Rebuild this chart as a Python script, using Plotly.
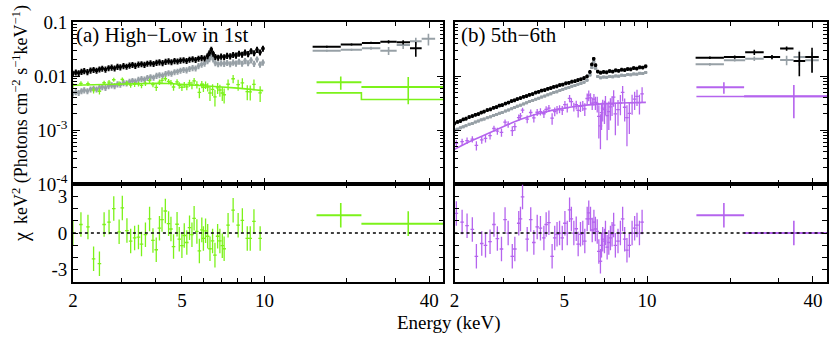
import plotly.graph_objects as go

# ---- data ----
# XIS energy grid (keV) for the dense black / gray spectra
e_xis = [2.00, 2.05, 2.10, 2.15, 2.20, 2.26, 2.32, 2.38, 2.44, 2.50,
         2.56, 2.63, 2.70, 2.77, 2.84, 2.91, 2.98, 3.06, 3.14, 3.22,
         3.30, 3.38, 3.47, 3.56, 3.65, 3.74, 3.84, 3.94, 4.04, 4.14,
         4.25, 4.36, 4.47, 4.58, 4.70, 4.82, 4.94, 5.07, 5.20, 5.33,
         5.47, 5.61, 5.75, 5.90, 6.05, 6.20, 6.30, 6.40, 6.50, 6.62,
         6.78, 6.95, 7.13, 7.31, 7.50, 7.69, 7.88, 8.08, 8.29, 8.50,
         8.72, 8.94, 9.17, 9.40, 9.64, 9.88]

# (a) high state (black) and low state (gray)
a_black = [0.0112, 0.0118, 0.0114, 0.0121, 0.0125, 0.0120, 0.0128, 0.0131, 0.0127, 0.0134,
           0.0138, 0.0133, 0.0141, 0.0145, 0.0140, 0.0150, 0.0147, 0.0155, 0.0151, 0.0158,
           0.0162, 0.0156, 0.0165, 0.0168, 0.0163, 0.0171, 0.0174, 0.0169, 0.0178, 0.0182,
           0.0176, 0.0185, 0.0189, 0.0183, 0.0192, 0.0188, 0.0196, 0.0199, 0.0193, 0.0203,
           0.0207, 0.0201, 0.0212, 0.0218, 0.0214, 0.0236, 0.0268, 0.0312, 0.0262, 0.0228,
           0.0221, 0.0232, 0.0226, 0.0240, 0.0234, 0.0249, 0.0242, 0.0262, 0.0251, 0.0275,
           0.0258, 0.0292, 0.0268, 0.0310, 0.0276, 0.0325]
a_gray = [0.0048, 0.0051, 0.0049, 0.0053, 0.0055, 0.0053, 0.0057, 0.0059, 0.0057, 0.0061,
          0.0063, 0.0061, 0.0066, 0.0068, 0.0066, 0.0071, 0.0070, 0.0075, 0.0074, 0.0079,
          0.0082, 0.0080, 0.0086, 0.0089, 0.0087, 0.0093, 0.0096, 0.0094, 0.0102, 0.0105,
          0.0103, 0.0110, 0.0114, 0.0112, 0.0119, 0.0122, 0.0127, 0.0131, 0.0129, 0.0137,
          0.0142, 0.0140, 0.0155, 0.0165, 0.0172, 0.0190, 0.0208, 0.0245, 0.0205, 0.0176,
          0.0168, 0.0174, 0.0170, 0.0177, 0.0168, 0.0180, 0.0172, 0.0186, 0.0171, 0.0192,
          0.0175, 0.0198, 0.0170, 0.0205, 0.0165, 0.0180]

# (b) 5th (black) and 6th (gray)
b_black = [0.00134, 0.00142, 0.00147, 0.00158, 0.00163, 0.00174, 0.00182, 0.00193, 0.00199, 0.00212,
           0.00220, 0.00235, 0.00244, 0.00260, 0.00268, 0.00285, 0.00292, 0.00312, 0.00325, 0.00345,
           0.00356, 0.00378, 0.00392, 0.00415, 0.00428, 0.00452, 0.00468, 0.00495, 0.00512, 0.00540,
           0.00555, 0.00585, 0.00600, 0.00632, 0.00650, 0.00682, 0.00700, 0.00735, 0.00752, 0.00790,
           0.00808, 0.00850, 0.00872, 0.00920, 0.00990, 0.01200, 0.01650, 0.02100, 0.01600, 0.01220,
           0.01160, 0.01200, 0.01180, 0.01240, 0.01220, 0.01280, 0.01260, 0.01320, 0.01300, 0.01360,
           0.01340, 0.01410, 0.01390, 0.01460, 0.01440, 0.01520]
b_gray = [0.00100, 0.00104, 0.00110, 0.00115, 0.00121, 0.00128, 0.00133, 0.00141, 0.00147, 0.00155,
          0.00160, 0.00170, 0.00176, 0.00187, 0.00194, 0.00205, 0.00212, 0.00226, 0.00236, 0.00250,
          0.00262, 0.00277, 0.00290, 0.00306, 0.00320, 0.00338, 0.00352, 0.00372, 0.00388, 0.00410,
          0.00428, 0.00452, 0.00470, 0.00496, 0.00515, 0.00543, 0.00565, 0.00595, 0.00615, 0.00648,
          0.00670, 0.00705, 0.00730, 0.00772, 0.00840, 0.01050, 0.01450, 0.01850, 0.01400, 0.00990,
          0.00930, 0.00960, 0.00950, 0.00985, 0.00975, 0.01010, 0.01000, 0.01040, 0.01030, 0.01070,
          0.01060, 0.01100, 0.01090, 0.01130, 0.01120, 0.01170]

# HXD bins (keV)
hxd_lo = [15.0, 19.0, 22.7, 26.5, 30.4, 34.0, 37.5]
hxd_hi = [19.0, 22.7, 26.5, 30.4, 34.0, 37.5, 42.0]
hxd_mid = [16.9, 20.8, 24.5, 28.4, 32.1, 35.7, 39.7]
a_black_hxd = [0.0352, 0.0386, 0.0413, 0.0435, 0.0425, 0.0329]
a_black_hxd_err = [0.0015, 0.0018, 0.0020, 0.0030, 0.0040, 0.0100]
a_gray_hxd = [0.0296, 0.0308, 0.0329, 0.0296, 0.0377, 0.0443, 0.0491]
a_gray_hxd_err = [0.0012, 0.0015, 0.0020, 0.0050, 0.0060, 0.0070, 0.0120]
b_black_hxd = [0.0220, 0.0226, 0.0277, 0.0226, 0.0325, 0.0190, 0.0226]
b_black_hxd_err = [0.0012, 0.0015, 0.0030, 0.0020, 0.0030, 0.0090, 0.0110]
b_gray_hxd = [0.0166, 0.0198, 0.0211, 0.0226, 0.0200, 0.0226, 0.0198]
b_gray_hxd_err = [0.0010, 0.0012, 0.0020, 0.0020, 0.0040, 0.0070, 0.0080]

# (a) difference spectrum High-Low (green)
e_grn = [2.00, 2.14, 2.27, 2.38, 2.50, 2.60, 2.71, 2.82, 2.95, 3.03,
         3.15, 3.25, 3.36, 3.47, 3.56, 3.68, 3.81, 3.92, 4.03, 4.14,
         4.23, 4.35, 4.47, 4.56, 4.66, 4.80, 4.89, 5.00, 5.10, 5.21,
         5.33, 5.44, 5.54, 5.67, 5.79, 5.91, 5.99, 6.10, 6.21, 6.33,
         6.47, 6.60, 6.75, 6.88, 7.02, 7.13, 7.37, 7.69, 8.02, 8.31,
         8.66, 8.88, 9.16, 9.65]
f_grn = [0.00680, 0.00734, 0.00725, 0.00549, 0.00525, 0.00754, 0.00774, 0.00858, 0.00727, 0.00868,
         0.00740, 0.00683, 0.00706, 0.00716, 0.00673, 0.00730, 0.00825, 0.00696, 0.00619, 0.00775,
         0.00835, 0.00894, 0.00797, 0.00759, 0.00629, 0.00782, 0.00677, 0.00622, 0.00693, 0.00635,
         0.00746, 0.00681, 0.00814, 0.00698, 0.00501, 0.00707, 0.00617, 0.00687, 0.00629, 0.00487,
         0.00567, 0.00413, 0.00607, 0.00554, 0.00487, 0.00452, 0.00707, 0.00895, 0.00696, 0.00752,
         0.00516, 0.00512, 0.00705, 0.00490]
s_grn = [0.00070, 0.00070, 0.00070, 0.00070, 0.00070, 0.00070, 0.00070, 0.00072, 0.00072, 0.00072,
         0.00074, 0.00074, 0.00074, 0.00074, 0.00075, 0.00075, 0.00075, 0.00075, 0.00090, 0.00090,
         0.00090, 0.00090, 0.00090, 0.00090, 0.00090, 0.00090, 0.00090, 0.00090, 0.00090, 0.00090,
         0.00110, 0.00110, 0.00110, 0.00110, 0.00110, 0.00110, 0.00110, 0.00110, 0.00110, 0.00140,
         0.00140, 0.00140, 0.00140, 0.00140, 0.00140, 0.00140, 0.00160, 0.00160, 0.00160, 0.00160,
         0.00160, 0.00160, 0.00160, 0.00160]
chi_grn = [0.0, 0.7, 0.5, -2.1, -2.5, 0.7, 0.9, 2.0, 0.1, 2.05,
           0.2, -0.65, -0.4, -0.33, -0.9, -0.13, 1.15, -0.6, -1.36, 0.4,
           1.1, 1.8, 0.77, 0.33, -1.1, 0.72, -0.5, -1.03, -0.2, -0.77,
           0.44, -0.13, 1.2, 0.13, -1.46, 0.26, -0.44, 0.18, -0.26, -1.28,
           -0.64, -1.8, -0.26, -0.64, -1.03, -1.28, 0.64, 1.87, 0.64, 1.03,
           -0.44, -0.44, 0.95, -0.44]
e_grn_mod = [2.0, 2.5, 3.0, 3.5, 4.0, 4.5, 5.0, 5.5, 6.0, 6.5, 7.0, 8.0, 9.0, 9.9]
f_grn_mod = [0.0068, 0.0070, 0.0072, 0.0074, 0.0074, 0.0073, 0.0071, 0.0069, 0.0067, 0.0065,
             0.0063, 0.0060, 0.0057, 0.0054]
e_grn_hxd = [19.0, 33.5]
lo_grn_hxd = [15.5, 22.6]
hi_grn_hxd = [22.6, 45.0]
f_grn_hxd = [0.0077, 0.0063]
s_grn_hxd = [0.0021, 0.0033]
mod_grn_hxd = [0.0049, 0.0037]
chi_grn_hxd = [1.46, 0.77]

# (b) difference spectrum 5th-6th (purple)
e_pur = [2.03, 2.13, 2.22, 2.32, 2.40, 2.51, 2.59, 2.69, 2.78, 2.86,
         2.96, 3.05, 3.13, 3.24, 3.31, 3.42, 3.47, 3.53, 3.67, 3.78,
         3.88, 3.99, 4.10, 4.22, 4.30, 4.40, 4.52, 4.62, 4.71, 4.81,
         4.92, 5.03, 5.13, 5.23, 5.31, 5.42, 5.53, 5.62, 5.73, 5.84,
         5.94, 6.06, 6.14, 6.23, 6.32, 6.41, 6.49, 6.59, 6.68, 6.77,
         6.83, 6.90, 7.00, 7.06, 7.16, 7.26, 7.36, 7.46, 7.56, 7.67,
         7.84, 8.00, 8.15, 8.29, 8.45, 8.62, 8.82, 9.01, 9.19, 9.38,
         9.59]
f_pur = [0.00057, 0.00061, 0.00064, 0.00068, 0.00052, 0.00066, 0.00070, 0.00079, 0.00107, 0.00096,
         0.00091, 0.00140, 0.00128, 0.00098, 0.00116, 0.00171, 0.00184, 0.00234, 0.00160, 0.00212,
         0.00168, 0.00214, 0.00220, 0.00201, 0.00243, 0.00256, 0.00166, 0.00221, 0.00238, 0.00247,
         0.00235, 0.00297, 0.00262, 0.00388, 0.00336, 0.00272, 0.00296, 0.00232, 0.00276, 0.00285,
         0.00248, 0.00385, 0.00443, 0.00394, 0.00317, 0.00375, 0.00327, 0.00313, 0.00180, 0.00120,
         0.00210, 0.00255, 0.00240, 0.00310, 0.00185, 0.00220, 0.00270, 0.00302, 0.00410, 0.00200,
         0.00240, 0.00318, 0.00500, 0.00265, 0.00170, 0.00205, 0.00322, 0.00375, 0.00420, 0.00324,
         0.00470]
s_pur = [0.00008, 0.00008, 0.00009, 0.00009, 0.00010, 0.00010, 0.00011, 0.00012, 0.00014, 0.00014,
         0.00016, 0.00018, 0.00018, 0.00020, 0.00020, 0.00024, 0.00024, 0.00026, 0.00026, 0.00028,
         0.00030, 0.00032, 0.00033, 0.00034, 0.00035, 0.00036, 0.00040, 0.00040, 0.00042, 0.00042,
         0.00045, 0.00050, 0.00050, 0.00060, 0.00055, 0.00050, 0.00055, 0.00060, 0.00060, 0.00060,
         0.00065, 0.00090, 0.00100, 0.00090, 0.00080, 0.00090, 0.00090, 0.00100, 0.00110, 0.00076,
         0.00110, 0.00110, 0.00110, 0.00120, 0.00120, 0.00120, 0.00120, 0.00120, 0.00140, 0.00120,
         0.00120, 0.00130, 0.00160, 0.00120, 0.00120, 0.00120, 0.00130, 0.00140, 0.00140, 0.00130,
         0.00150]
chi_pur = [1.6, 0.9, 0.6, 0.3, -1.9, -0.85, -1.0, -0.7, 0.7, -0.45,
           -1.3, 1.1, 0.0, -1.9, -1.3, 0.8, 1.15, 2.95, -0.5, 1.1,
           -0.77, 0.5, 0.4, -0.4, 0.7, 0.85, -1.9, -0.4, -0.1, 0.0,
           -0.4, 0.8, 0.0, 1.9, 1.15, 0.0, 0.35, -0.9, -0.1, 0.0,
           -0.65, 1.15, 1.65, 1.15, 0.25, 0.9, 0.33, 0.13, -1.5, -2.3,
           -1.0, -0.5, -0.65, 0.0, -1.15, -0.77, -0.4, -0.1, 0.65, -1.0,
           -0.65, 0.0, 1.15, -0.5, -1.4, -1.0, 0.0, 0.4, 0.65, 0.0,
           0.9]
e_pur_mod = [2.0, 2.25, 2.5, 2.75, 3.0, 3.25, 3.5, 3.75, 4.0, 4.5, 5.0, 5.5, 6.0, 6.5, 7.0, 8.0, 9.0, 9.9]
f_pur_mod = [0.00044, 0.00060, 0.00076, 0.00095, 0.00116, 0.00138, 0.00160, 0.00180, 0.00200, 0.00232,
             0.00258, 0.00276, 0.00290, 0.00302, 0.00310, 0.00318, 0.00323, 0.00326]
e_pur_hxd = [19.0, 34.1]
lo_pur_hxd = [15.1, 22.5]
hi_pur_hxd = [22.5, 45.0]
f_pur_hxd = [0.0062, 0.00425]
s_pur_hxd = [0.0015, 0.0026]
mod_pur_hxd = [0.0042, 0.0042]
chi_pur_hxd = [1.46, 0.0]

BLACK = "#000000"
GRAY = "#97a0a6"
GREEN = "#7cf21a"
PURPLE = "#b564ee"
FONT = "Liberation Serif"


def dense(e, f, color, pct, xa, ya):
    return go.Scatter(x=e, y=f, mode="markers", xaxis=xa, yaxis=ya,
                      marker=dict(size=3, color=color, symbol="square"),
                      error_y=dict(type="percent", value=pct, color=color, thickness=2, width=0),
                      error_x=dict(type="percent", value=1.4, color=color, thickness=1.5, width=0),
                      showlegend=False, hoverinfo="skip")


def points(e, f, s, color, xa, ya, xpct=1.5):
    return go.Scatter(x=e, y=f, mode="markers", xaxis=xa, yaxis=ya,
                      marker=dict(size=1, color=color),
                      error_y=dict(type="data", array=s, color=color, thickness=1.3, width=0),
                      error_x=dict(type="percent", value=xpct, color=color, thickness=1.3, width=0),
                      showlegend=False, hoverinfo="skip")


def hxd(mid, lo, hi, f, s, color, xa, ya):
    n = len(f)
    return go.Scatter(x=mid[:n], y=f, mode="markers", xaxis=xa, yaxis=ya,
                      marker=dict(size=1, color=color),
                      error_y=dict(type="data", array=s, color=color, thickness=1.6, width=0),
                      error_x=dict(type="data", symmetric=False,
                                   array=[h - m for h, m in zip(hi[:n], mid[:n])],
                                   arrayminus=[m - l for m, l in zip(mid[:n], lo[:n])],
                                   color=color, thickness=2, width=0),
                      showlegend=False, hoverinfo="skip")


def model(e, f, color, xa, ya, shape="linear"):
    return go.Scatter(x=e, y=f, mode="lines", xaxis=xa, yaxis=ya,
                      line=dict(color=color, width=1.6, shape=shape),
                      showlegend=False, hoverinfo="skip")


fig = go.Figure()

# panel (a) spectra
fig.add_trace(dense(e_xis, a_gray, GRAY, 13, "x", "y"))
fig.add_trace(dense(e_xis, a_black, BLACK, 13, "x", "y"))
fig.add_trace(model(e_grn_mod, f_grn_mod, GREEN, "x", "y"))
fig.add_trace(points(e_grn, f_grn, s_grn, GREEN, "x", "y"))
fig.add_trace(hxd(hxd_mid, hxd_lo, hxd_hi, a_gray_hxd, a_gray_hxd_err, GRAY, "x", "y"))
fig.add_trace(hxd(hxd_mid, hxd_lo, hxd_hi, a_black_hxd, a_black_hxd_err, BLACK, "x", "y"))
fig.add_trace(model([lo_grn_hxd[0], hi_grn_hxd[0], hi_grn_hxd[1]],
                    [mod_grn_hxd[0], mod_grn_hxd[1], mod_grn_hxd[1]], GREEN, "x", "y", "hv"))
fig.add_trace(hxd(e_grn_hxd, lo_grn_hxd, hi_grn_hxd, f_grn_hxd, s_grn_hxd, GREEN, "x", "y"))

# panel (a) residuals
fig.add_trace(points(e_grn, chi_grn, [1] * len(chi_grn), GREEN, "x2", "y2"))
fig.add_trace(hxd(e_grn_hxd, lo_grn_hxd, hi_grn_hxd, chi_grn_hxd, [1, 1], GREEN, "x2", "y2"))

# panel (b) spectra
fig.add_trace(dense(e_xis, b_gray, GRAY, 6, "x3", "y3"))
fig.add_trace(dense(e_xis, b_black, BLACK, 8, "x3", "y3"))
fig.add_trace(model(e_pur_mod, f_pur_mod, PURPLE, "x3", "y3"))
fig.add_trace(points(e_pur, f_pur, s_pur, PURPLE, "x3", "y3"))
fig.add_trace(hxd(hxd_mid, hxd_lo, hxd_hi, b_gray_hxd, b_gray_hxd_err, GRAY, "x3", "y3"))
fig.add_trace(hxd(hxd_mid, hxd_lo, hxd_hi, b_black_hxd, b_black_hxd_err, BLACK, "x3", "y3"))
fig.add_trace(model([lo_pur_hxd[0], hi_pur_hxd[0], hi_pur_hxd[1]],
                    [mod_pur_hxd[0], mod_pur_hxd[1], mod_pur_hxd[1]], PURPLE, "x3", "y3", "hv"))
fig.add_trace(hxd(e_pur_hxd, lo_pur_hxd, hi_pur_hxd, f_pur_hxd, s_pur_hxd, PURPLE, "x3", "y3"))

# panel (b) residuals
fig.add_trace(points(e_pur, chi_pur, [1] * len(chi_pur), PURPLE, "x4", "y4"))
fig.add_trace(hxd(e_pur_hxd, lo_pur_hxd, hi_pur_hxd, chi_pur_hxd, [1, 1], PURPLE, "x4", "y4"))

W, H = 831, 340
xa_dom = [68.3 / W, 441 / W]
xb_dom = [452.3 / W, 827 / W]
top_dom = [1 - 185.5 / H, 1 - 13 / H]
bot_dom = [1 - 290 / H, 1 - 185.5 / H]

axis_common = dict(showline=True, linecolor="black", linewidth=1.6, mirror="ticks",
                   ticks="inside", tickcolor="black", tickwidth=1.2, showgrid=False,
                   zeroline=False, tickfont=dict(family=FONT, size=19, color="black"))

e_ticks = [2, 5, 10, 40]
e_minor = [3, 4, 6, 7, 8, 9, 20, 30]


def xaxis(dom, anchor, labels):
    d = dict(axis_common)
    d.update(type="log", range=[0.30103, 1.6532], domain=dom, anchor=anchor,
             tickmode="array", tickvals=e_ticks, ticktext=[str(t) for t in e_ticks],
             showticklabels=labels, ticklen=6,
             minor=dict(tickvals=e_minor, ticklen=4, ticks="inside", tickcolor="black"))
    return d


flux_ticks = [1e-4, 1e-3, 1e-2, 1e-1]
flux_text = ["10<sup>-4</sup>", "10<sup>-3</sup>", "0.01", "0.1"]
flux_minor = [m * 10 ** p for p in (-4, -3, -2) for m in range(2, 10)]


def yflux(dom, anchor, labels):
    d = dict(axis_common)
    d.update(type="log", range=[-4, -1], domain=dom, anchor=anchor,
             tickmode="array", tickvals=flux_ticks, ticktext=flux_text,
             showticklabels=labels, ticklen=7,
             minor=dict(tickvals=flux_minor, ticklen=4, ticks="inside", tickcolor="black"))
    return d


chi_ticks = [-3, -2, -1, 0, 1, 2, 3]
chi_text = ["-3", "", "", "0", "", "", "3"]


def ychi(dom, anchor, labels):
    d = dict(axis_common)
    d.update(range=[-4, 4], domain=dom, anchor=anchor, tickmode="array",
             tickvals=chi_ticks, ticktext=chi_text, showticklabels=labels, ticklen=5)
    return d


fig.update_layout(
    width=W, height=H, margin=dict(l=0, r=0, t=0, b=0),
    paper_bgcolor="white", plot_bgcolor="white",
    xaxis=xaxis(xa_dom, "y", False),
    yaxis=yflux(top_dom, "x", True),
    xaxis2=xaxis(xa_dom, "y2", True),
    yaxis2=ychi(bot_dom, "x2", True),
    xaxis3=xaxis(xb_dom, "y3", False),
    yaxis3=yflux(top_dom, "x3", False),
    xaxis4=xaxis(xb_dom, "y4", True),
    yaxis4=ychi(bot_dom, "x4", False),
)

# dotted zero lines of the residual panels
for xr, yr in (("x2", "y2"), ("x4", "y4")):
    fig.add_shape(type="line", xref=xr + " domain", yref=yr, x0=0, x1=1, y0=0, y1=0,
                  line=dict(color="black", width=1.5, dash="dot"))

txt = dict(family=FONT, color="black")
ann = dict(xref="paper", yref="paper", showarrow=False, yanchor="middle")
fig.add_annotation(x=69 / W, y=1 - 27 / H, xanchor="left", text="(a) High\u2212Low in 1st",
                   font=dict(size=21, **txt), **ann)
fig.add_annotation(x=457 / W, y=1 - 27 / H, xanchor="left", text="(b) 5th\u22126th",
                   font=dict(size=21, **txt), **ann)
fig.add_annotation(x=16 / W, y=1 - 111 / H, xanchor="center", textangle=-90,
                   font=dict(size=18, **txt),
                   text="keV<sup>2</sup> (Photons cm<sup>\u22122</sup> s<sup>\u22121</sup>keV<sup>\u22121</sup>)",
                   **ann)
fig.add_annotation(x=16 / W, y=1 - 242 / H, xanchor="center", textangle=-90,
                   text="\u03c7", font=dict(size=20, **txt), **ann)
fig.add_annotation(x=447 / W, y=1 - 334 / H, xanchor="center", text="Energy (keV)",
                   font=dict(size=19, **txt), **ann)

# the page body has a default 8px margin; drop it so the figure sits at the window origin
fig.write_html("out.html", config={"displayModeBar": False},
               post_script="document.body.style.margin='0px';")
